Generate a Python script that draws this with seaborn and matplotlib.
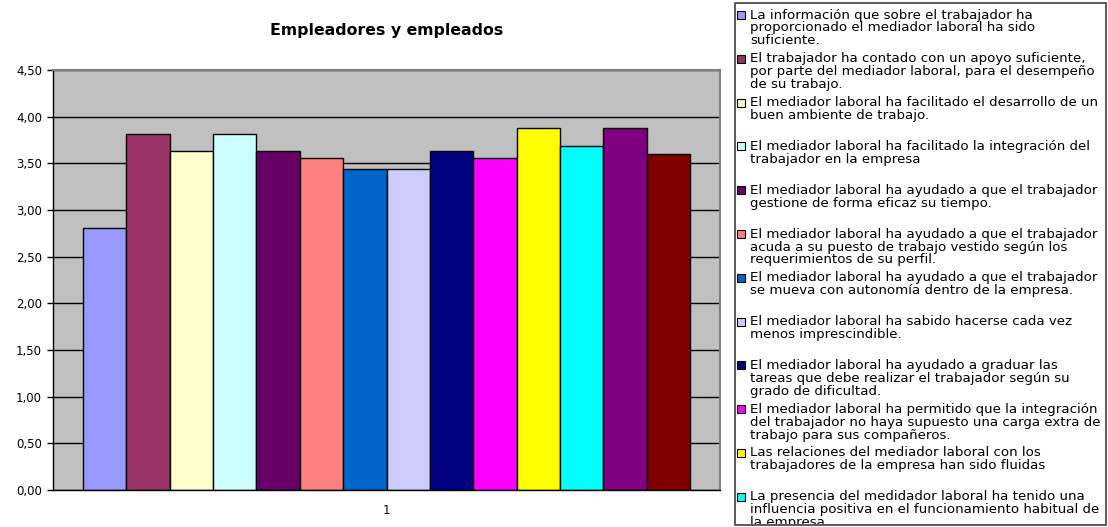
import matplotlib
matplotlib.use("Agg")
import matplotlib.pyplot as plt
from matplotlib.patches import Rectangle
from matplotlib.ticker import FuncFormatter
from matplotlib.transforms import Bbox
import pandas as pd
import seaborn as sns

# --- data -------------------------------------------------------------
serie = "1"
items = [
    "La información que sobre el trabajador ha\nproporcionado el mediador laboral ha sido\nsuficiente.",
    "El trabajador ha contado con un apoyo suficiente,\npor parte del mediador laboral, para el desempeño\nde su trabajo.",
    "El mediador laboral ha facilitado el desarrollo de un\nbuen ambiente de trabajo.",
    "El mediador laboral ha facilitado la integración del\ntrabajador en la empresa",
    "El mediador laboral ha ayudado a que el trabajador\ngestione de forma eficaz su tiempo.",
    "El mediador laboral ha ayudado a que el trabajador\nacuda a su puesto de trabajo vestido según los\nrequerimientos de su perfil.",
    "El mediador laboral ha ayudado a que el trabajador\nse mueva con autonomía dentro de la empresa.",
    "El mediador laboral ha sabido hacerse cada vez\nmenos imprescindible.",
    "El mediador laboral ha ayudado a graduar las\ntareas que debe realizar el trabajador según su\ngrado de dificultad.",
    "El mediador laboral ha permitido que la integración\ndel trabajador no haya supuesto una carga extra de\ntrabajo para sus compañeros.",
    "Las relaciones del mediador laboral con los\ntrabajadores de la empresa han sido fluidas",
    "La presencia del medidador laboral ha tenido una\ninfluencia positiva en el funcionamiento habitual de\nla empresa",
    "Valoración global del mediador laboral (13)",
    "Valoración global del mediador laboral (14)",
]
values = [2.81, 3.81, 3.63, 3.81, 3.63, 3.56, 3.44, 3.44, 3.63, 3.56, 3.88, 3.69, 3.88, 3.60]
colors = ["#9999FF", "#993366", "#FFFFCC", "#CCFFFF", "#660066", "#FF8080", "#0066CC",
          "#CCCCFF", "#000080", "#FF00FF", "#FFFF00", "#00FFFF", "#800080", "#800000"]
yticks = [0.0, 0.5, 1.0, 1.5, 2.0, 2.5, 3.0, 3.5, 4.0, 4.5]
title = "Empleadores y empleados"
n_legend = 12  # entries that fit inside the legend box

df = pd.DataFrame({"serie": [serie] * len(values), "item": items, "valor": values})

# --- style ------------------------------------------------------------
sns.set_theme(style="white")
plt.rcParams["font.family"] = ["DejaVu Sans"]

W, H = 1108, 527
fig = plt.figure(figsize=(W / 100, H / 100), dpi=100)
fig.patch.set_facecolor("white")

ax = fig.add_axes([53 / W, (H - 490) / H, (720 - 53) / W, (490 - 70) / H])
ax.set_facecolor("#C0C0C0")

sns.barplot(data=df, x="serie", y="valor", hue="item", hue_order=items,
            palette=colors, saturation=1, edgecolor="black", linewidth=1.0,
            width=0.91, gap=0, ax=ax, legend=False)

ax.set_xlim(-0.5, 0.5)
ax.set_ylim(yticks[0], yticks[-1])
ax.set_yticks(yticks)
ax.yaxis.set_major_formatter(FuncFormatter(lambda v, _: f"{v:.2f}".replace(".", ",")))
ax.yaxis.grid(True, color="black", linewidth=1.0)
ax.xaxis.grid(False)
ax.set_axisbelow(True)
ax.set_xlabel("")
ax.set_ylabel("")

ax.set_xticks([0])
ax.set_xticklabels([serie])
ax.set_xticks([-0.5, 0.5], minor=True)
ax.tick_params(axis="x", which="major", length=0, pad=10, labelsize=8.5, colors="black")
ax.tick_params(axis="x", which="minor", length=4, width=1, direction="out", color="black")
ax.tick_params(axis="y", length=4, width=1, direction="out", pad=4, labelsize=8.5,
               colors="black", left=True)

for side in ("left", "bottom"):
    ax.spines[side].set_color("black")
    ax.spines[side].set_linewidth(1.0)
for side in ("top", "right"):
    ax.spines[side].set_color("#808080")
    ax.spines[side].set_linewidth(1.5)
    ax.spines[side].set_visible(True)

fig.text(387 / W, 1 - 30 / H, title, ha="center", va="center",
         fontsize=11.3, fontweight="bold", color="black")

# --- legend box ---------------------------------------------------------
box = Rectangle((735 / W, 1 - 525 / H), (1106 - 735) / W, (525 - 3) / H,
                transform=fig.transFigure, facecolor="white", edgecolor="#404040",
                linewidth=1.2, zorder=1)
fig.patches.append(box)

# every entry gets a three-line slot; texts are clipped at the box edge
first_row = 15.0
entry_pitch = 43.8
line_pitch = 13.0
key = 8
clip = Bbox.from_extents(735, 3, 1106, H - 3)
for i, (label, color) in enumerate(zip(items[:n_legend], colors[:n_legend])):
    row = first_row + i * entry_pitch
    fig.patches.append(Rectangle(((741 - key / 2) / W, 1 - (row + key / 2) / H),
                                 key / W, key / H, transform=fig.transFigure,
                                 facecolor=color, edgecolor="black", linewidth=0.8,
                                 zorder=3))
    for k, line in enumerate(label.split("\n")):
        t = fig.text(750 / W, 1 - (row + k * line_pitch) / H, line,
                     ha="left", va="center", fontsize=9.6, color="black", zorder=3)
        t.set_clip_box(clip)
        t.set_clip_on(True)

fig.savefig("out.png", dpi=100, facecolor="white")
